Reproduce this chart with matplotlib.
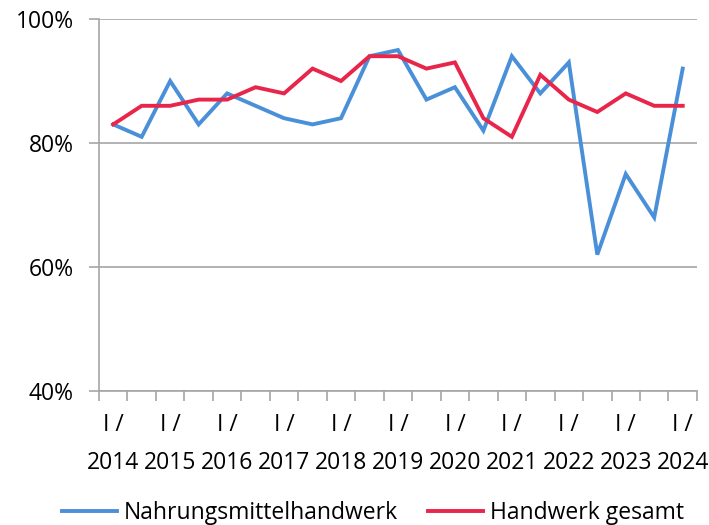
import matplotlib
matplotlib.use("Agg")
import matplotlib.pyplot as plt
from matplotlib.ticker import FixedLocator, FuncFormatter

plt.rcParams['font.family'] = ['Open Sans', 'DejaVu Sans']

years = list(range(2014, 2025))
periods = []
for y in years:
    periods.append(f"I / {y}")
    if y != 2024:
        periods.append(f"II / {y}")

nahrung = [83, 81, 90, 83, 88, 86, 84, 83, 84, 94, 95, 87, 89, 82, 94, 88, 93, 62, 75, 68, 92]
gesamt = [83, 86, 86, 87, 87, 89, 88, 92, 90, 94, 94, 92, 93, 84, 81, 91, 87, 85, 88, 86, 86]

blue = '#4A90D9'
red = '#E8254A'
grid = '#A6A6A6'

fig = plt.figure(figsize=(7.09, 5.25), dpi=100)
ax = fig.add_axes([0.1396, 0.2552, 0.983 - 0.1396, 0.9638 - 0.2552])

x = list(range(len(periods)))
ax.plot(x, nahrung, color=blue, lw=2.8, label='Nahrungsmittelhandwerk', solid_joinstyle='miter')
ax.plot(x, gesamt, color=red, lw=2.8, label='Handwerk gesamt', solid_joinstyle='miter')

ax.set_xlim(-0.5, len(periods) - 0.5)
ax.set_ylim(40, 100)
ax.set_yticks([40, 60, 80, 100])
ax.yaxis.set_major_formatter(FuncFormatter(lambda v, p: f"{int(v)}%"))
ax.yaxis.grid(True, color=grid, lw=1.2)
ax.set_axisbelow(True)

# x ticks between categories; labels at every other category
ax.xaxis.set_major_locator(FixedLocator([i - 0.5 for i in range(len(periods) + 1)]))
ax.xaxis.set_major_formatter(FuncFormatter(lambda v, p: ""))
lab_pos = [i for i in range(0, len(periods), 2)]
ax.xaxis.set_minor_locator(FixedLocator(lab_pos))
ax.set_xticklabels([periods[i].replace(" / ", " /\n") for i in lab_pos], minor=True,
                   fontsize=16.5, linespacing=1.75)
ax.tick_params(axis='x', which='minor', length=0, pad=16)
ax.tick_params(axis='x', which='major', length=7, width=1.2, color=grid)
ax.tick_params(axis='y', length=7, width=1.2, color=grid, labelsize=16.5, pad=11)

for s in ['top', 'right']:
    ax.spines[s].set_visible(False)
for s in ['left', 'bottom']:
    ax.spines[s].set_color(grid)
    ax.spines[s].set_linewidth(1.2)

fig.legend(loc='lower center', bbox_to_anchor=(0.526, -0.04), ncol=2, frameon=False,
           fontsize=16.5, handlelength=2.4, handletextpad=0.3, columnspacing=1.3)

fig.savefig('out.png', dpi=100)
